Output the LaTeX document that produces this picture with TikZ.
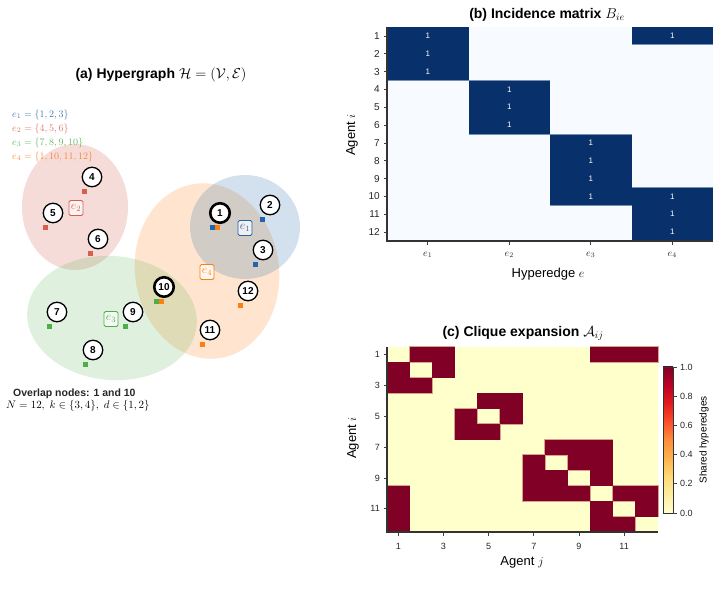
\documentclass[tikz,border=0pt]{standalone}
\usepackage{amsmath,amssymb}
\usepackage{fontspec}
\setmainfont{Liberation Sans}
\usetikzlibrary{calc}

\definecolor{eone}{HTML}{2166AC}
\definecolor{etwo}{HTML}{D6604D}
\definecolor{ethree}{HTML}{4DAF4A}
\definecolor{efour}{HTML}{FF7F0E}
\definecolor{navy}{HTML}{08306B}
\definecolor{paleblue}{HTML}{F7FBFF}
\definecolor{wine}{HTML}{800026}
\definecolor{cream}{HTML}{FFFFCC}
\definecolor{tanedge}{HTML}{D4A38A}
\definecolor{bluedge}{HTML}{7890B0}
\definecolor{yor0}{HTML}{FFFFCC}
\definecolor{yor1}{HTML}{FFEDA0}
\definecolor{yor2}{HTML}{FED976}
\definecolor{yor3}{HTML}{FEB24C}
\definecolor{yor4}{HTML}{FD8D3C}
\definecolor{yor5}{HTML}{FC4E2A}
\definecolor{yor6}{HTML}{E31A1C}
\definecolor{yor7}{HTML}{BD0026}
\definecolor{yor8}{HTML}{800026}

\newcommand{\fsz}[1]{\fontsize{#1}{#1}\selectfont}

\tikzset{
  agent/.style={circle, draw=black, line width=1.3pt, fill=white, minimum size=19.5pt,
    inner sep=0pt, font=\fsz{10}\bfseries},
  hub/.style={agent, line width=2.6pt},
  elabel/.style={draw=#1, text=#1, rounded corners=1.5pt, fill=white, fill opacity=0.7,
    text opacity=1, line width=0.8pt, minimum width=14pt, minimum height=15pt, inner sep=1pt,
    font=\fsz{12}},
  legline/.style={text=#1!85, anchor=west, inner sep=0pt, font=\fsz{10}},
  ttl/.style={font=\fsz{14}\bfseries, inner sep=0pt},
  axlbl/.style={font=\fsz{13}, inner sep=0pt},
  ticklbl/.style={font=\fsz{10}, inner sep=0pt, text=black!85},
  tick/.style={black!75, line width=0.8pt},
  spine/.style={black!80, line width=1.2pt},
  cellnum/.style={text=white, font=\fsz{8}, inner sep=0pt}
}

\begin{document}
\begin{tikzpicture}[x=1pt,y=-1pt]
\useasboundingbox (0,0) rectangle (720,607);

% ---------- (a) hypergraph
\node[ttl] (ttla) at (161,75) {(a) Hypergraph $\mathcal{H}=(\mathcal{V},\mathcal{E})$};

\node[legline=eone] (lg1) at (12,115) {$e_1=\{1,2,3\}$};
\node[legline=etwo] (lg2) at (12,129) {$e_2=\{4,5,6\}$};
\node[legline=ethree] (lg3) at (12,143) {$e_3=\{7,8,9,10\}$};
\node[legline=efour] (lg4) at (12,157) {$e_4=\{1,10,11,12\}$};

\fill[etwo, opacity=0.22] (75,207) ellipse [x radius=53, y radius=63];
\fill[efour, opacity=0.2, rotate around={8:(207,271)}] (207,271) ellipse [x radius=72, y radius=88];
\fill[eone, opacity=0.2] (245,227) ellipse [x radius=55, y radius=52];
\fill[ethree, opacity=0.18, rotate around={-5:(112,318)}] (112,318) ellipse [x radius=85, y radius=62];

\node[elabel=eone] (he1) at (245,228) {$e_1$};
\node[elabel=etwo] (he2) at (76,208) {$e_2$};
\node[elabel=ethree] (he3) at (111,319) {$e_3$};
\node[elabel=efour] (he4) at (207,272) {$e_4$};

\foreach \n/\x/\y in {2/270/205, 3/263/250, 4/92/177, 5/53/213, 6/98/239,
    7/57/312, 8/93/350, 9/133/312, 11/210/330, 12/248/291}
  \node[agent] (v\n) at (\x,\y) {\n};
\node[hub] (v1) at (220,213) {1};
\node[hub] (v10) at (164,287) {10};

% membership squares
\foreach \n/\c in {2/eone, 3/eone, 4/etwo, 5/etwo, 6/etwo, 7/ethree, 8/ethree,
    9/ethree, 11/efour, 12/efour}
  \fill[\c] ($(v\n)+(-10.5,11.5)$) rectangle ++(5,5);
\fill[eone] ($(v1)+(-10.5,11.5)$) rectangle ++(5,5);
\fill[efour] ($(v1)+(-5.5,11.5)$) rectangle ++(5,5);
\fill[ethree] ($(v10)+(-10.5,11.5)$) rectangle ++(5,5);
\fill[efour] ($(v10)+(-5.5,11.5)$) rectangle ++(5,5);

\node[anchor=west, inner sep=0pt, font=\fsz{10.5}\bfseries, text=black!85] (ovl) at (13,394)
  {Overlap nodes: 1 and 10};
\node[anchor=west, inner sep=0pt, font=\fsz{11}] (prm) at (6,406)
  {$N=12,\ k\in\{3,4\},\ d\in\{1,2\}$};

% ---------- (b) incidence matrix
\def\bw{81.5}
\def\bh{17.833}
\node[ttl] (ttlb) at (547,15) {(b) Incidence matrix $B_{ie}$};
\fill[paleblue] (387,27) rectangle (713,241);
\foreach \c/\ra/\rb in {1/1/3, 2/4/6, 3/7/10, 4/1/1, 4/10/12}
  \fill[navy] ({387+(\c-1)*\bw},{27+(\ra-1)*\bh}) rectangle ({387+\c*\bw},{27+\rb*\bh});
\foreach \rr/\ca/\cb in {1/4/4, 3/1/2, 6/2/3, 9/4/4, 10/3/3}
  \draw[bluedge, line width=0.8pt] ({387+(\ca-1)*\bw},{27+\rr*\bh}) -- ({387+\cb*\bw},{27+\rr*\bh});
\foreach \r/\c in {1/1,2/1,3/1,4/2,5/2,6/2,7/3,8/3,9/3,10/3,1/4,10/4,11/4,12/4}
  \node[cellnum] (b\r-\c) at ({387+(\c-0.5)*\bw},{27+(\r-0.5)*\bh}) {1};

\foreach \r in {1,...,12} {
  \draw[tick] (387,{27+(\r-0.5)*\bh}) -- ++(-3.5,0);
  \node[ticklbl, anchor=east] (by\r) at (380,{27+(\r-0.5)*\bh}) {\r};
}
\foreach \c in {1,...,4} {
  \draw[tick] ({387+(\c-0.5)*\bw},241) -- ++(0,3.5);
  \node[ticklbl, font=\fsz{10}] (bx\c) at ({387+(\c-0.5)*\bw},255) {$e_{\c}$};
}
\draw[spine] (387,27) -- (387,241) -- (713,241);
\node[axlbl, rotate=90] (bly) at (352,135) {Agent $i$};
\node[axlbl] (blx) at (548,274) {Hyperedge $e$};

% ---------- (c) clique expansion
\def\cw{22.583}
\def\ch{15.417}
\node[ttl] (ttlc) at (523,333) {(c) Clique expansion $\mathcal{A}_{ij}$};
\fill[cream] (387,347) rectangle (658,532);
\foreach \grp in {{1,2,3},{4,5,6},{7,8,9,10},{1,10,11,12}}
  \foreach \i in \grp
    \foreach \j in \grp {
      \ifnum\i=\j\relax\else
        \filldraw[fill=wine, draw=tanedge, line width=1.2pt]
          ({387+(\j-1)*\cw},{347+(\i-1)*\ch}) rectangle ++(\cw,\ch);
      \fi
    }
\foreach \grp in {{1,2,3},{4,5,6},{7,8,9,10},{1,10,11,12}}
  \foreach \i in \grp
    \foreach \j in \grp {
      \ifnum\i=\j\relax\else
        \fill[wine] ({387+(\j-1)*\cw},{347+(\i-1)*\ch}) rectangle ++(\cw,\ch);
      \fi
    }
\fill[white] (658.6,340) rectangle (662,540);

\foreach \k in {1,3,...,11} {
  \draw[tick] (387,{347+(\k-0.5)*\ch}) -- ++(-3.5,0);
  \node[ticklbl, anchor=east, font=\fsz{9}] (cy\k) at (380,{347+(\k-0.5)*\ch}) {\k};
  \draw[tick] ({387+(\k-0.5)*\cw},532) -- ++(0,3.5);
  \node[ticklbl, font=\fsz{9}] (cx\k) at ({387+(\k-0.5)*\cw},546) {\k};
}
\draw[spine] (387,347) -- (387,532) -- (658,532);
\node[axlbl, rotate=90] (cly) at (353,438) {Agent $i$};
\node[axlbl] (clx) at (522,562) {Agent $j$};

% colour bar
\foreach \a/\b [count=\s from 0] in {yor0/yor1, yor1/yor2, yor2/yor3, yor3/yor4,
    yor4/yor5, yor5/yor6, yor6/yor7, yor7/yor8}
  \shade[bottom color=\a, top color=\b] (663,{513-(\s+1)*18.25-0.3}) rectangle (673,{513-\s*18.25});
\draw[black!80, line width=0.9pt] (663,367) rectangle (673,513);
\foreach \v/\t in {0/0.0, 1/0.2, 2/0.4, 3/0.6, 4/0.8, 5/1.0} {
  \draw[tick] (673,{513-\v*29.2}) -- ++(3.5,0);
  \node[ticklbl, anchor=west, font=\fsz{9}] (cb\v) at (680,{513-\v*29.2}) {\t};
}
\node[font=\fsz{10}, rotate=90, inner sep=0pt] (cbl) at (704,440) {Shared hyperedges};
\end{tikzpicture}
\end{document}
